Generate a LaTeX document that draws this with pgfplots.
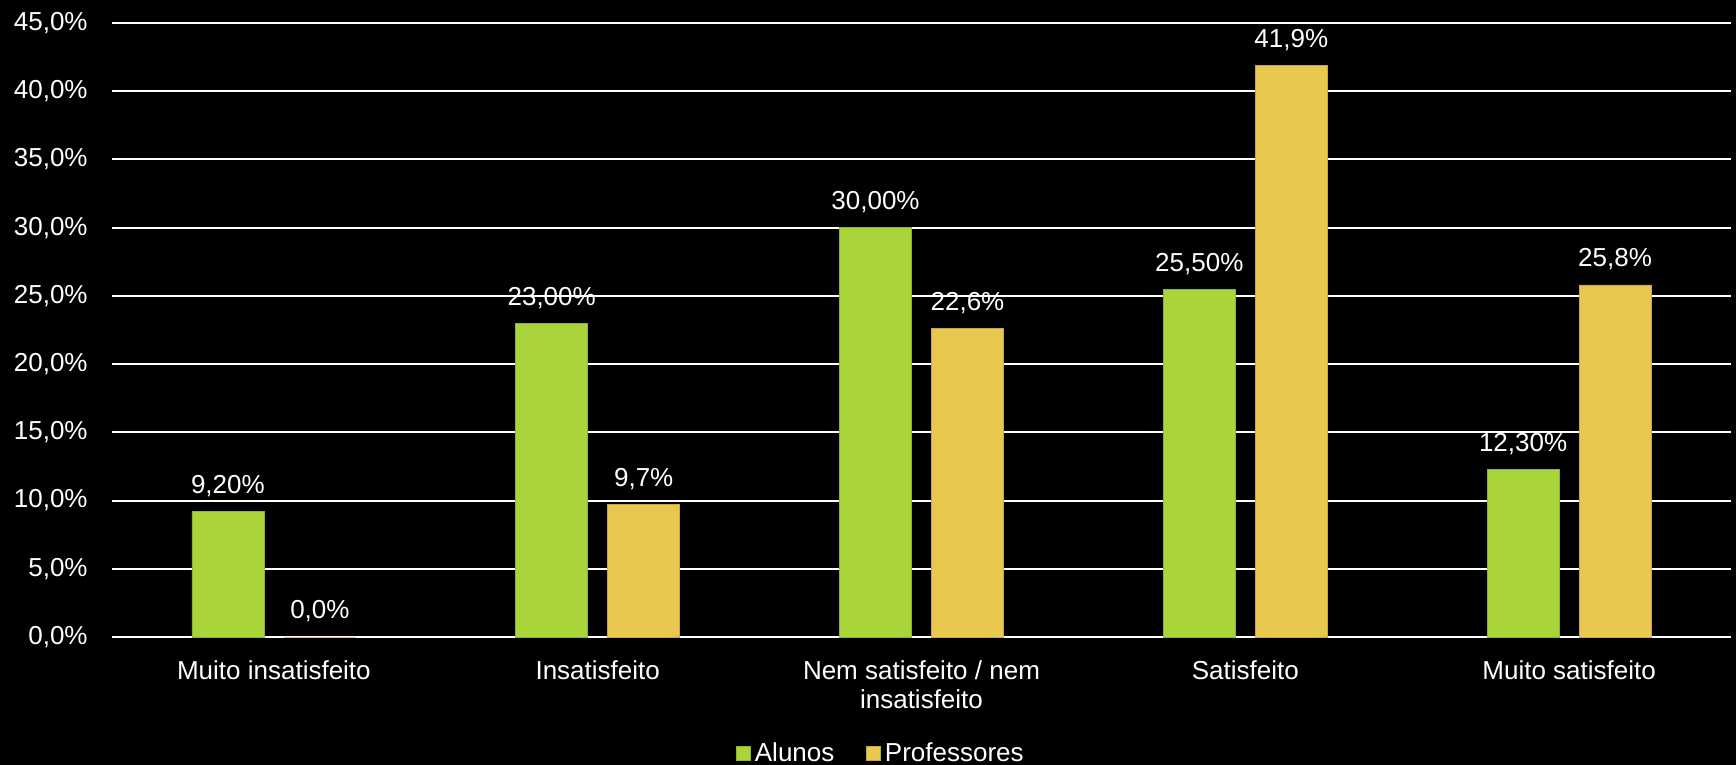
\documentclass[border=0pt]{standalone}
\usepackage{pgfplots}
\pgfplotsset{compat=1.18}
\usepackage{fontspec}
\setmainfont{Liberation Sans}
\definecolor{grn}{HTML}{A9D43A}
\definecolor{yel}{HTML}{E8C84E}
\newcommand{\cf}{\fontsize{13}{14.75}\selectfont}
\begin{document}
\begin{tikzpicture}
\fill[black] (0,0) rectangle (868pt,382.5pt);
\begin{axis}[
  at={(56pt,64pt)}, anchor=south west,
  scale only axis, width=809.5pt, height=307pt,
  xmin=-0.5, xmax=4.5, ymin=0, ymax=45,
  clip=false,
  xtick={0,1,2,3,4},
  xticklabels={Muito insatisfeito, Insatisfeito, {Nem satisfeito / nem\\insatisfeito}, Satisfeito, Muito satisfeito},
  ytick={0,5,10,15,20,25,30,35,40,45},
  yticklabels={{0,0\%},{5,0\%},{10,0\%},{15,0\%},{20,0\%},{25,0\%},{30,0\%},{35,0\%},{40,0\%},{45,0\%}},
  axis line style={draw=none},
  major tick length=0pt,
  ymajorgrids, grid style={white, line width=1pt},
  xticklabel style={font=\cf, text=white, align=center, inner sep=0pt, anchor=north, yshift=-11.5pt},
  yticklabel style={font=\cf, text=white, inner sep=0pt, anchor=east, xshift=-12pt},
  every node near coord/.append style={font=\cf, text=white, inner sep=0pt, anchor=base, yshift=9pt},
  legend style={at={(0.4756,-0.1897)}, anchor=center, draw=none, fill=none, text=white, font=\cf,
    /tikz/every even column/.append style={column sep=14pt}},
  legend columns=2,
  legend image code/.code={\fill[#1] (0pt,-3.5pt) rectangle (7pt,3.5pt);},
]
\addplot[ybar, bar width=36pt, bar shift=-23pt, fill=grn, draw=grn!85!black, line width=0.3pt,
  nodes near coords, point meta=explicit symbolic,
  every node near coord/.append style={xshift=-23pt}]
  coordinates {(0,9.2) [9,20\%] (1,23.0) [23,00\%] (2,30.0) [30,00\%] (3,25.5) [25,50\%] (4,12.3) [12,30\%]};
\addlegendentry{Alunos}
\addplot[ybar, bar width=36pt, bar shift=23pt, fill=yel, draw=yel!85!black, line width=0.3pt,
  nodes near coords, point meta=explicit symbolic,
  every node near coord/.append style={xshift=23pt}]
  coordinates {(0,0.0) [0,0\%] (1,9.7) [9,7\%] (2,22.6) [22,6\%] (3,41.9) [41,9\%] (4,25.8) [25,8\%]};
\addlegendentry{Professores}
\end{axis}
\pgfresetboundingbox
\path[use as bounding box] (0,0) rectangle (868pt,382.5pt);
\end{tikzpicture}
\end{document}
